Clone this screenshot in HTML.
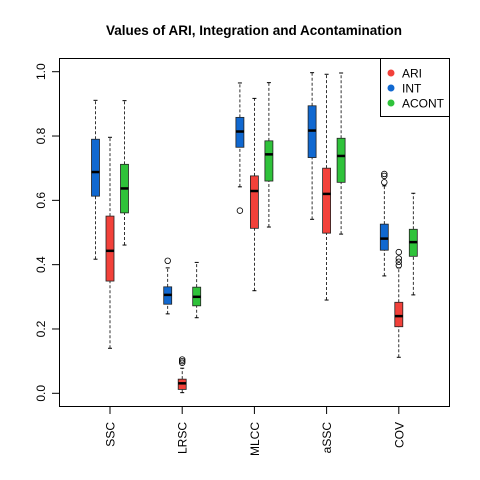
<!DOCTYPE html>
<html><head><meta charset="utf-8"><style>body{margin:0;background:#fff}svg{display:block;font-family:"Liberation Sans",sans-serif}</style></head>
<body>
<svg id="chart" width="480" height="480">
<text x="254" y="35" text-anchor="middle" font-size="13.5" font-weight="bold">Values of ARI, Integration and Acontamination</text>
<g id="marks"></g>
<rect x="59.5" y="58.5" width="390" height="348" fill="none" stroke="#000" stroke-width="1"/>
<g>
<rect x="380.5" y="58.5" width="69" height="58" fill="#fff" stroke="#000" stroke-width="1"/>
<circle cx="391" cy="73" r="3.5" fill="#f2413a"/>
<text x="402" y="77.5" font-size="12">ARI</text>
<circle cx="391" cy="88" r="3.5" fill="#1068d0"/>
<text x="402" y="92.5" font-size="12">INT</text>
<circle cx="391" cy="103" r="3.5" fill="#2fc23a"/>
<text x="402" y="107.5" font-size="12">ACONT</text>
</g>
</svg>
<script>
const categories = ["SSC","LRSC","MLCC","aSSC","COV"];
const seriesNames = ["INT","ARI","ACONT"];
const seriesColors = ["#1068d0","#f2413a","#2fc23a"];
// each: [low, q1, median, q3, high] per category
const intStats = [[0.417,0.613,0.688,0.79,0.911],[0.247,0.277,0.306,0.331,0.39],[0.642,0.765,0.814,0.858,0.965],[0.541,0.733,0.817,0.894,0.997],[0.365,0.445,0.481,0.526,0.645]];
const ariStats = [[0.14,0.349,0.443,0.551,0.796],[0.002,0.012,0.031,0.044,0.078],[0.319,0.513,0.629,0.676,0.917],[0.29,0.498,0.62,0.7,0.992],[0.112,0.207,0.24,0.283,0.39]];
const acontStats = [[0.461,0.561,0.637,0.712,0.91],[0.235,0.272,0.3,0.33,0.407],[0.517,0.66,0.743,0.785,0.966],[0.495,0.656,0.738,0.793,0.996],[0.306,0.426,0.47,0.51,0.622]];
const intOutliers = [[],[0.412],[0.568],[],[0.656,0.676,0.682]];
const ariOutliers = [[],[0.095,0.1,0.105],[],[],[0.398,0.409,0.419,0.439]];
const acontOutliers = [[],[],[],[],[]];
const yTicks = [0,0.2,0.4,0.6,0.8,1.0];
const yTickLabels = ["0.0","0.2","0.4","0.6","0.8","1.0"];

const NS="http://www.w3.org/2000/svg";
const svg=document.getElementById('chart'), g=document.getElementById('marks');
const yScale=v=>393.3-v*321.6;
const xScale=i=>110+i*72.2;
const offsets=[-14.5,0,14.5];
function mk(tag,attrs,parent){const e=document.createElementNS(NS,tag);for(const k in attrs)e.setAttribute(k,attrs[k]);(parent||g).appendChild(e);return e;}
const allStats=[intStats,ariStats,acontStats], allOut=[intOutliers,ariOutliers,acontOutliers];
// y axis
let ax=mk('line',{x1:59.5,x2:59.5,y1:yScale(0),y2:yScale(1),stroke:'#000'},svg);


yTicks.forEach((t,i)=>{
  const y=yScale(t);
  const tk=mk('line',{x1:52,x2:59.5,y1:y,y2:y,stroke:'#000'},svg);
  
  
  const tx=mk('text',{x:0,y:0,transform:`translate(45,${y}) rotate(-90)`,'text-anchor':'middle','font-size':12},svg);
  tx.textContent=yTickLabels[i];
  
  
});
categories.forEach((c,ci)=>{
  const x=xScale(ci);
  const tk=mk('line',{x1:x,x2:x,y1:406.5,y2:414,stroke:'#000'},svg);
  
  
  const tx=mk('text',{x:0,y:0,transform:`translate(${x+4.5},422) rotate(-90)`,'text-anchor':'end','font-size':12},svg);
  tx.textContent=c;
  
  
  for(let s=0;s<3;s++){
    const st=allStats[s][ci], bx=x+offsets[s], w=8;
    const grp=mk('g',{});
    
    
    mk('line',{x1:bx,x2:bx,y1:yScale(st[0]),y2:yScale(st[1]),stroke:'#000','stroke-dasharray':'3,2','stroke-width':0.8},grp);
    mk('line',{x1:bx,x2:bx,y1:yScale(st[3]),y2:yScale(st[4]),stroke:'#000','stroke-dasharray':'3,2','stroke-width':0.8},grp);
    mk('line',{x1:bx-2,x2:bx+2,y1:yScale(st[0]),y2:yScale(st[0]),stroke:'#000'},grp);
    mk('line',{x1:bx-2,x2:bx+2,y1:yScale(st[4]),y2:yScale(st[4]),stroke:'#000'},grp);
    mk('rect',{x:bx-w/2,y:yScale(st[3]),width:w,height:yScale(st[1])-yScale(st[3]),fill:seriesColors[s],stroke:'#222','stroke-width':0.8},grp);
    mk('line',{x1:bx-w/2,x2:bx+w/2,y1:yScale(st[2]),y2:yScale(st[2]),stroke:'#000','stroke-width':2.5},grp);
    allOut[s][ci].forEach(o=>{
      const p=mk('circle',{cx:bx,cy:yScale(o),r:2.8,fill:'none',stroke:'#000','stroke-width':0.8},grp);
      
      
    });
  }
});
</script>
</body></html>
